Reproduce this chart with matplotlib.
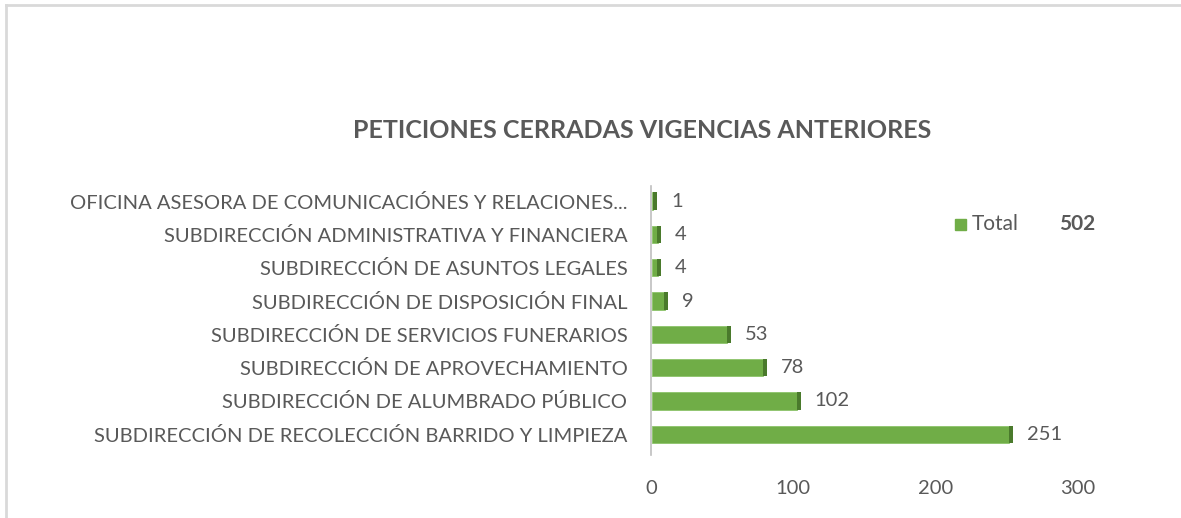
import matplotlib.pyplot as plt
from matplotlib.lines import Line2D
from matplotlib.patches import Rectangle

categories = [
    "SUBDIRECCIÓN DE RECOLECCIÓN BARRIDO Y LIMPIEZA",
    "SUBDIRECCIÓN DE ALUMBRADO PÚBLICO",
    "SUBDIRECCIÓN DE APROVECHAMIENTO",
    "SUBDIRECCIÓN DE SERVICIOS FUNERARIOS",
    "SUBDIRECCIÓN DE DISPOSICIÓN FINAL",
    "SUBDIRECCIÓN DE ASUNTOS LEGALES",
    "SUBDIRECCIÓN ADMINISTRATIVA Y FINANCIERA",
    "OFICINA ASESORA DE COMUNICACIÓNES Y RELACIONES...",
]
values = [251, 102, 78, 53, 9, 4, 4, 1]
total = 502
xticks = [0, 100, 200, 300]

green = "#70AD47"
dark = "#4A7A2C"
gray_txt = "#595959"
font = "Lato"

fig = plt.figure(figsize=(11.81, 5.18), dpi=100)
fig.patch.set_facecolor("white")

# chart frame (only top and left visible in the crop)
fig.add_artist(Line2D([6 / 1181, 6 / 1181], [0, 1 - 5 / 518], transform=fig.transFigure,
                      color="#D9D9D9", lw=2))
fig.add_artist(Line2D([6 / 1181, 1], [1 - 5 / 518, 1 - 5 / 518], transform=fig.transFigure,
                      color="#D9D9D9", lw=2))

ax = fig.add_axes([651 / 1181, 1 - 455 / 518, (1078 - 651) / 1181, (455 - 186) / 518])
pos = list(range(len(categories)))
ax.barh(pos, values, height=0.52, color=green, edgecolor="#8CC46A", linewidth=0.6, left=0.6)
# darker end face to suggest the 3d look
ax.barh(pos, [2.8] * len(values), left=[v + 0.4 for v in values], height=0.52, color=dark)

for p, v in zip(pos, values):
    ax.text(v + 13, p, str(v), va="center", ha="left", fontsize=14.5, color=gray_txt,
            family=font)

ax.set_xlim(0, 300)
ax.set_ylim(-0.62, 7.45)
ax.set_xticks(xticks)
ax.set_yticks(pos)
ax.set_yticklabels(categories)
for s in ["top", "right", "bottom"]:
    ax.spines[s].set_visible(False)
ax.spines["left"].set_color("#BFBFBF")
ax.spines["left"].set_linewidth(1.2)
ax.tick_params(axis="both", length=0, labelcolor=gray_txt, labelsize=14.5)
ax.tick_params(axis="x", pad=18)
ax.tick_params(axis="y", pad=17)
for lab in ax.get_xticklabels() + ax.get_yticklabels():
    lab.set_family(font)

fig.text(642 / 1181, 1 - 131 / 518, "PETICIONES CERRADAS VIGENCIAS ANTERIORES", ha="center",
         va="center", fontsize=18, fontweight="bold", color=gray_txt, family=font)

# legend with total
fig.add_artist(Rectangle((955 / 1181, 1 - 230 / 518), 11 / 1181, 11 / 518,
                         transform=fig.transFigure, color=green))
fig.text(972 / 1181, 1 - 224 / 518, "Total", ha="left", va="center", fontsize=15,
         color=gray_txt, family=font)
fig.text(1059 / 1181, 1 - 224 / 518, str(total), ha="left", va="center", fontsize=15,
         fontweight="bold", color=gray_txt, family=font)

fig.savefig("out.png", dpi=100, facecolor="white")
